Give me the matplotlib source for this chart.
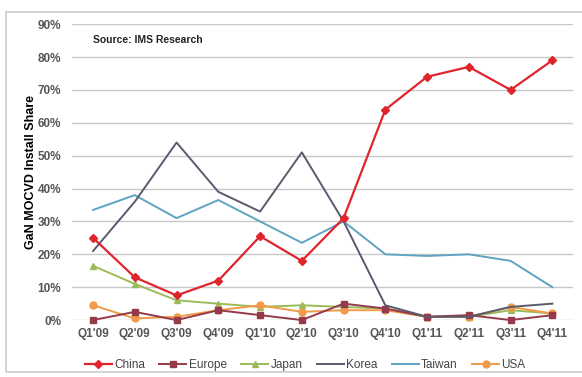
import matplotlib.pyplot as plt
from matplotlib.patches import Rectangle
import numpy as np

plt.rcParams['font.family'] = ['Liberation Sans', 'DejaVu Sans']

quarters = ["Q1'09", "Q2'09", "Q3'09", "Q4'09", "Q1'10", "Q2'10",
            "Q3'10", "Q4'10", "Q1'11", "Q2'11", "Q3'11", "Q4'11"]
china = [25, 13, 7.5, 12, 25.5, 18, 31, 64, 74, 77, 70, 79]
europe = [0, 2.5, 0, 3, 1.5, 0, 5, 3.5, 1, 1.5, 0, 1.5]
japan = [16.5, 11, 6, 5, 4, 4.5, 4, 3.5, 1, 1, 3, 2]
korea = [21, 36, 54, 39, 33, 51, 30, 4.5, 1, 1, 4, 5]
taiwan = [33.5, 38, 31, 36.5, 30, 23.5, 30, 20, 19.5, 20, 18, 10]
usa = [4.5, 0.5, 1, 3, 4.5, 2.5, 3, 3, 1, 1, 4, 2]

fig = plt.figure(figsize=(5.82, 3.77), dpi=100)
ax = fig.add_axes([0.124, 0.151, 0.861, 0.785])

x = np.arange(len(quarters))
ax.plot(x, china, color='#e0242c', marker='D', markersize=4, lw=1.6, label='China', clip_on=False, zorder=6)
ax.plot(x, europe, color='#953a4a', marker='s', markersize=5, lw=1.4, label='Europe', clip_on=False, zorder=4)
ax.plot(x, japan, color='#9bbb59', marker='^', markersize=5, lw=1.4, label='Japan', clip_on=False, zorder=3)
ax.plot(x, korea, color='#5a5a6e', lw=1.4, label='Korea', clip_on=False, zorder=5)
ax.plot(x, taiwan, color='#5fa3c2', lw=1.4, label='Taiwan', clip_on=False, zorder=4)
ax.plot(x, usa, color='#f09a4a', marker='o', markersize=5, lw=1.4, label='USA', clip_on=False, zorder=3)

ax.set_xlim(-0.5, len(quarters) - 0.5)
ax.set_ylim(0, 90)
ax.set_yticks(range(0, 91, 10))
ax.set_yticklabels([f'{v}%' for v in range(0, 91, 10)])
ax.set_xticks(x)
ax.set_xticklabels(quarters)
ax.grid(axis='y', color='#c8c8c8', lw=1)
ax.set_axisbelow(True)
for s in ax.spines.values():
    s.set_visible(False)
ax.tick_params(axis='y', length=0, labelsize=8.5, colors='#555555', pad=8)
ax.tick_params(axis='x', length=0, labelsize=8.5, colors='#555555', pad=6)
for lbl in ax.get_xticklabels() + ax.get_yticklabels():
    lbl.set_fontweight('bold')

ax.set_ylabel('GaN MOCVD Install Share', fontsize=9, fontweight='bold', va='center')
ax.yaxis.set_label_coords(-0.082, 0.5)
ax.text(0.042, 0.946, 'Source: IMS Research', transform=ax.transAxes,
        fontsize=7.5, fontweight='bold', color='#222222', va='center')

leg = ax.legend(loc='upper center', bbox_to_anchor=(0.465, -0.095), ncol=6, frameon=False,
                fontsize=8.5, handlelength=2.3, columnspacing=1.2, handletextpad=0.2)
for t in leg.get_texts():
    t.set_color('#444444')

fig.patches.append(Rectangle((0.01, 0.012), 1.0, 0.955, transform=fig.transFigure,
                             fill=False, edgecolor='#cccccc', lw=1.2))

fig.savefig('out.png', dpi=100)
